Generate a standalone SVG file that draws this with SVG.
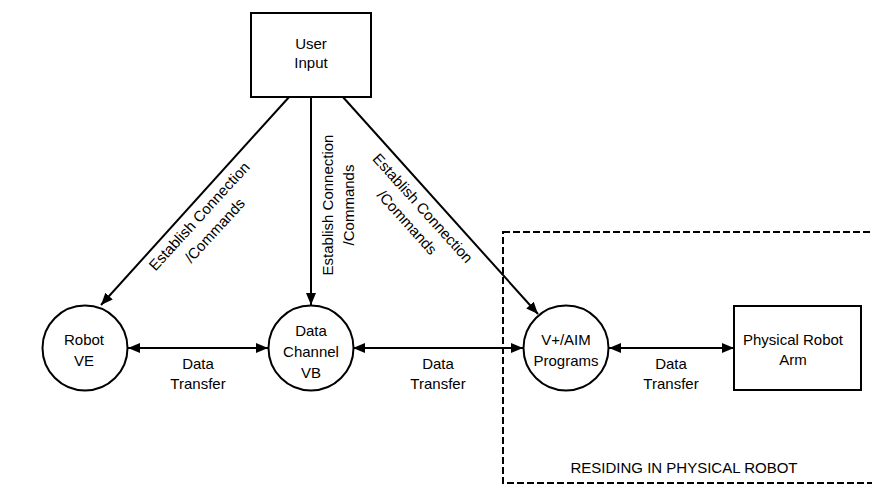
<svg xmlns="http://www.w3.org/2000/svg" width="872" height="489" viewBox="0 0 872 489">
  <defs>
    <marker id="head" viewBox="0 0 12 10" markerUnits="userSpaceOnUse" markerWidth="12" markerHeight="10" refX="12" refY="5" orient="auto-start-reverse">
      <path d="M0,0 L12,5 L0,10 z" fill="#000"/>
    </marker>
  </defs>
  <style>
    .shape { fill: #fff; stroke: #000; stroke-width: 2; }
    .line { fill: none; stroke: #000; stroke-width: 2; }
    .one { marker-end: url(#head); }
    .both { marker-start: url(#head); marker-end: url(#head); }
    text { font-family: "Liberation Sans", Arial, sans-serif; font-size: 15px; fill: #000; text-anchor: middle; }
  </style>

  <rect width="872" height="489" fill="#fff"/>

  <!-- boundary of the physical robot -->
  <g id="robot-boundary">
    <rect x="503" y="232" width="380" height="251" fill="none" stroke="#000" stroke-width="2" stroke-dasharray="7 3"/>
    <text x="684" y="473">RESIDING IN PHYSICAL ROBOT</text>
  </g>

  <!-- connectors -->
  <g id="connectors">
    <line class="line one" x1="290" y1="96" x2="101" y2="305"/>
    <line class="line one" x1="311" y1="97" x2="311" y2="305"/>
    <line class="line one" x1="342" y1="96" x2="538" y2="314"/>
    <line class="line both" x1="128" y1="348" x2="268" y2="348"/>
    <line class="line both" x1="353" y1="348" x2="523" y2="348"/>
    <line class="line both" x1="609" y1="348" x2="734" y2="348"/>

    <g transform="translate(199,216) rotate(-47.5)">
      <text y="5.5">Establish Connection</text>
      <text y="26.5">/Commands</text>
    </g>
    <g transform="translate(327,205) rotate(-90)">
      <text y="5.5">Establish Connection</text>
      <text y="26.5">/Commands</text>
    </g>
    <g transform="translate(423,208) rotate(48)">
      <text y="5.5">Establish Connection</text>
      <text y="26.5">/Commands</text>
    </g>

    <text x="198" y="368.5">Data</text>
    <text x="198" y="388.5">Transfer</text>
    <text x="438" y="368.5">Data</text>
    <text x="438" y="388.5">Transfer</text>
    <text x="671" y="368.5">Data</text>
    <text x="671" y="388.5">Transfer</text>
  </g>

  <g id="user-input">
    <rect class="shape" x="251" y="13" width="120" height="84"/>
    <text x="311" y="49">User</text>
    <text x="311" y="68">Input</text>
  </g>

  <g id="robot-ve">
    <circle class="shape" cx="85" cy="348" r="42.5"/>
    <text x="84" y="345">Robot</text>
    <text x="84" y="366">VE</text>
  </g>

  <g id="data-channel-vb">
    <circle class="shape" cx="311" cy="348" r="42.5"/>
    <text x="311" y="336">Data</text>
    <text x="311" y="357">Channel</text>
    <text x="311" y="378">VB</text>
  </g>

  <g id="v-aim-programs">
    <circle class="shape" cx="566" cy="348" r="42.5"/>
    <text x="566" y="345">V+/AIM</text>
    <text x="566" y="366">Programs</text>
  </g>

  <g id="physical-robot-arm">
    <rect class="shape" x="734" y="306" width="127" height="84"/>
    <text x="793" y="345">Physical Robot</text>
    <text x="793" y="365">Arm</text>
  </g>
</svg>
